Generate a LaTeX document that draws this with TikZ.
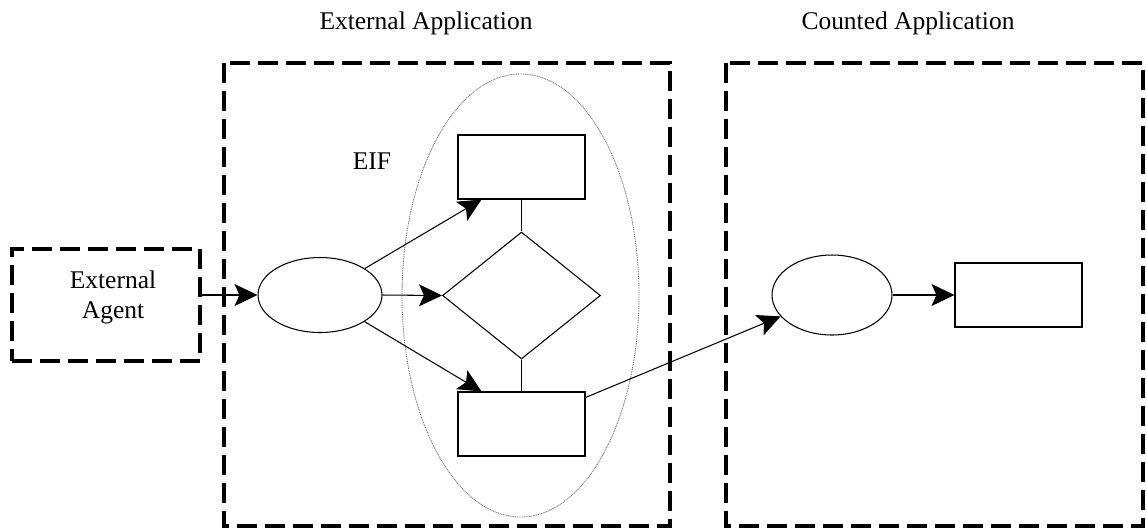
\documentclass[tikz,border=0pt]{standalone}
\usepackage{fontspec}
\setmainfont{Liberation Serif}
\usetikzlibrary{positioning}
\usetikzlibrary{shapes}
\usetikzlibrary{arrows.meta}
\usetikzlibrary{calc}

\tikzset{
  appbox/.style={black, line width=1.9pt, dash pattern=on 0.4cm off 0.16cm},
  procbox/.style={draw, black, line width=0.6pt, rectangle, minimum width=2.54cm, minimum height=1.28cm, inner sep=0pt},
  procell/.style={draw, black, line width=0.6pt, ellipse, inner sep=0pt},
  flow/.style={black, line width=0.6pt, -{Stealth[length=0.46cm, width=0.44cm, inset=0.1cm]}},
  lbl/.style={font=\fontsize{14.5}{17}\selectfont, inner sep=0pt},
}

\begin{document}
\begin{tikzpicture}[x=0.02cm, y=-0.02cm]
\useasboundingbox (0,0) rectangle (1146,529);
%titles
\node[lbl, anchor=base] (exttitle) at (426,29) {External Application};
\node[lbl, anchor=base] (cnttitle) at (908,29) {Counted Application};
%application boundaries
\draw[appbox] (224,63) rectangle (670,526);
\draw[appbox] (726,63) rectangle (1143,526);
%EIF
\draw[gray, line width=0.5pt, dash pattern=on 0.6pt off 0.4pt] (520.5,295.5) ellipse [x radius=118.5, y radius=221.5];
\node[lbl, anchor=base] (eif) at (372,169) {EIF};
%external agent
\node[draw, appbox, minimum width=3.76cm, minimum height=2.24cm] (agent) at (106,305) {};
\node[lbl, align=center] (agenttxt) at (113,297) {External\\Agent};
%external application
\node[procell, minimum width=2.48cm, minimum height=1.5cm] (lell) at (320,295) {};
\node[procbox] (trect) at (521.5,167) {};
\node[draw, black, line width=0.6pt, diamond, inner sep=0pt, minimum width=3.16cm, minimum height=2.54cm] (dec) at (521.5,295.5) {};
\node[procbox] (brect) at (521.5,424) {};
%counted application
\node[procell, minimum width=2.4cm, minimum height=1.6cm] (rell) at (832,295) {};
\node[procbox] (rrect) at (1018.5,295) {};
%connectors
\draw[flow] (agent.east |- lell.west) -- (lell.west);
\draw[flow] (lell) -- ($(trect.south west)+(24,0)$);
\draw[flow] (lell.east) -- (dec.west);
\draw[flow] (lell) -- ($(brect.north west)+(24,0)$);
\draw[black, line width=0.6pt] (trect.south) -- (dec.north);
\draw[black, line width=0.6pt] (dec.south) -- (brect.north);
\draw[flow] ($(brect.north east)+(0,6)$) -- (rell);
\draw[flow] (rell.east) -- (rrect.west);
\end{tikzpicture}
\end{document}
